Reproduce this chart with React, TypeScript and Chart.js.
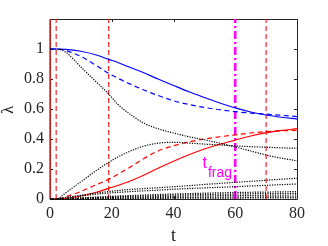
import React, { useEffect, useRef } from "react";
import { Chart, registerables } from "chart.js";

Chart.register(...registerables);

// ---- data ----
const T = [0, 2, 5, 10, 15, 19, 22, 25, 30, 35, 40, 45, 50, 55, 60, 65, 70, 75, 80];

const blueSolid = [1, 1, 0.998, 0.985, 0.96, 0.931, 0.91, 0.885, 0.845, 0.8, 0.757, 0.715, 0.677, 0.64, 0.607, 0.58, 0.56, 0.545, 0.533];
const blueDashed = [1, 1, 0.99, 0.95, 0.89, 0.838, 0.805, 0.775, 0.73, 0.69, 0.655, 0.63, 0.61, 0.595, 0.582, 0.573, 0.566, 0.558, 0.549];
const redSolid = [0, 0, 0.003, 0.02, 0.045, 0.071, 0.09, 0.112, 0.155, 0.205, 0.252, 0.295, 0.333, 0.365, 0.393, 0.42, 0.442, 0.457, 0.469];
const redDashed = [0, 0, 0.015, 0.05, 0.095, 0.131, 0.165, 0.2, 0.265, 0.32, 0.355, 0.38, 0.4, 0.415, 0.427, 0.44, 0.449, 0.455, 0.458];
const black1 = [1, 1, 0.98, 0.88, 0.78, 0.7, 0.63, 0.58, 0.51, 0.468, 0.44, 0.415, 0.395, 0.372, 0.347, 0.32, 0.293, 0.272, 0.255];
const black2 = [0, 0, 0.04, 0.115, 0.19, 0.244, 0.28, 0.31, 0.35, 0.372, 0.378, 0.373, 0.366, 0.36, 0.354, 0.349, 0.345, 0.341, 0.338];
const black3 = [0, 0, 0.01, 0.025, 0.04, 0.05, 0.056, 0.062, 0.069, 0.075, 0.082, 0.089, 0.097, 0.104, 0.111, 0.118, 0.125, 0.132, 0.138];
const black4 = [0, 0, 0.008, 0.02, 0.032, 0.04, 0.044, 0.048, 0.054, 0.059, 0.065, 0.07, 0.074, 0.078, 0.082, 0.087, 0.091, 0.096, 0.1];
const black5 = [0, 0, 0.003, 0.008, 0.013, 0.017, 0.02, 0.022, 0.026, 0.03, 0.033, 0.036, 0.039, 0.041, 0.043, 0.045, 0.046, 0.048, 0.049];
const black6 = [0, 0, 0.002, 0.006, 0.01, 0.013, 0.015, 0.017, 0.02, 0.023, 0.026, 0.028, 0.03, 0.032, 0.033, 0.035, 0.036, 0.037, 0.038];
const black7 = [0, 0, 0.001, 0.004, 0.007, 0.009, 0.011, 0.012, 0.014, 0.016, 0.018, 0.02, 0.021, 0.022, 0.023, 0.024, 0.025, 0.026, 0.027];
const black8 = [0, 0, 0.001, 0.002, 0.004, 0.005, 0.006, 0.007, 0.008, 0.009, 0.01, 0.011, 0.012, 0.012, 0.013, 0.013, 0.014, 0.014, 0.015];
const black9 = [0, 0, 0, 0.001, 0.002, 0.002, 0.003, 0.003, 0.004, 0.004, 0.005, 0.005, 0.006, 0.006, 0.006, 0.007, 0.007, 0.007, 0.007];

const redVLines = [0, 2, 19, 70];
const fragLine = 60;

const X_TICKS = [0, 20, 40, 60, 80];
const Y_TICKS = [0, 0.2, 0.4, 0.6, 0.8, 1];
const Y_TICK_LABELS = ["0", "0.2", "0.4", "0.6", "0.8", "1"];
const X_LABEL = "t";
const Y_LABEL = "λ";
const ANNOT_MAIN = "t";
const ANNOT_SUB = "frag";
const ANNOT_AT = { x: 49.4, y: 0.207 };

const X_MIN = 0, X_MAX = 80, Y_MIN = 0, Y_MAX = 1.2;

const pts = (ys: number[]) => T.map((x, i) => ({ x, y: ys[i] }));
const vline = (x: number) => [{ x, y: Y_MIN }, { x, y: Y_MAX }];

const AXIS_COLOR = "#262626";

const framePlugin = {
  id: "frame",
  beforeDatasetsDraw(chart: any) {
    const { ctx, chartArea: a, scales } = chart;
    const xs = scales.x, ys = scales.y;
    ctx.save();
    ctx.strokeStyle = AXIS_COLOR;
    ctx.lineWidth = 1;
    ctx.beginPath();
    ctx.rect(Math.round(a.left) + 0.5, Math.round(a.top) + 0.5, Math.round(a.right - a.left), Math.round(a.bottom - a.top));
    ctx.stroke();
    ctx.beginPath();
    const tl = 3;
    for (const v of X_TICKS) {
      const px = Math.round(xs.getPixelForValue(v)) + 0.5;
      ctx.moveTo(px, a.bottom);
      ctx.lineTo(px, a.bottom - tl);
      ctx.moveTo(px, a.top);
      ctx.lineTo(px, a.top + tl);
    }
    for (const v of Y_TICKS) {
      const py = Math.round(ys.getPixelForValue(v)) + 0.5;
      ctx.moveTo(a.left, py);
      ctx.lineTo(a.left + tl, py);
      ctx.moveTo(a.right, py);
      ctx.lineTo(a.right - tl, py);
    }
    ctx.stroke();
    ctx.restore();
  },
  afterDraw(chart: any) {
    const { ctx, chartArea: a, scales } = chart;
    const xs = scales.x, ys = scales.y;
    ctx.save();
    ctx.fillStyle = AXIS_COLOR;
    ctx.textAlign = "center";
    ctx.textBaseline = "middle";
    ctx.font = "18px 'Liberation Serif'";
    ctx.fillText(X_LABEL, (a.left + a.right) / 2, 236);
    ctx.save();
    ctx.translate(9, (a.top + a.bottom) / 2 + 1);
    ctx.rotate(-Math.PI / 2);
    ctx.font = "17px 'Liberation Serif'";
    ctx.fillText(Y_LABEL, 0, 0);
    ctx.restore();
    // annotation
    ctx.fillStyle = "#ff00ff";
    ctx.textAlign = "left";
    ctx.textBaseline = "alphabetic";
    const ax = xs.getPixelForValue(ANNOT_AT.x);
    const ay = ys.getPixelForValue(ANNOT_AT.y);
    ctx.font = "16px 'Liberation Sans'";
    ctx.fillText(ANNOT_MAIN, ax, ay);
    const w = ctx.measureText(ANNOT_MAIN).width;
    ctx.font = "14px 'Liberation Sans'";
    ctx.fillText(ANNOT_SUB, ax + w + 1, ay + 9);
    ctx.restore();
  },
};

export default function App() {
  const ref = useRef<HTMLCanvasElement>(null);
  useEffect(() => {
    if (!ref.current) return;
    const dotted = (ys: number[]) => ({
      data: pts(ys),
      borderColor: "#000000",
      borderWidth: 1.2,
      borderDash: [1.2, 1.3],
      pointRadius: 0,
      cubicInterpolationMode: "monotone" as const,
      clip: false as any,
    });
    const datasets: any[] = [
      dotted(black9), dotted(black8), dotted(black7), dotted(black6), dotted(black5),
      dotted(black4), dotted(black3), dotted(black2), dotted(black1),
      { data: pts(redDashed), borderColor: "#ff0000", borderWidth: 1.2, borderDash: [5, 3.5], pointRadius: 0, cubicInterpolationMode: "monotone" },
      { data: pts(redSolid), borderColor: "#ff0000", borderWidth: 1.2, pointRadius: 0, cubicInterpolationMode: "monotone" },
      { data: pts(blueDashed), borderColor: "#0000ff", borderWidth: 1.2, borderDash: [5, 3.5], pointRadius: 0, cubicInterpolationMode: "monotone" },
      { data: pts(blueSolid), borderColor: "#0000ff", borderWidth: 1.2, pointRadius: 0, cubicInterpolationMode: "monotone" },
      ...redVLines.map((x) => ({
        data: vline(x),
        borderColor: "#ff2020",
        borderWidth: x === 0 ? 1.5 : 1.2,
        borderDash: x === 0 ? [] : [5, 3],
        pointRadius: 0,
        clip: false,
      })),
      {
        data: vline(fragLine),
        borderColor: "#ff00ff",
        borderWidth: 2.5,
        borderDash: [8, 3, 2, 3],
        pointRadius: 0,
        clip: false,
      },
    ];
    const chart = new Chart(ref.current, {
      type: "line",
      data: { datasets },
      plugins: [framePlugin],
      options: {
        animation: false,
        responsive: false,
        events: [],
        layout: { padding: { left: 0, right: 31, top: 19, bottom: 0 } },
        plugins: { legend: { display: false }, tooltip: { enabled: false } },
        scales: {
          x: {
            type: "linear",
            min: X_MIN,
            max: X_MAX,
            grid: { display: false, drawTicks: false },
            border: { display: false },
            afterBuildTicks: (s: any) => { s.ticks = X_TICKS.map((value) => ({ value })); },
            afterFit: (s: any) => { s.height = 47; },
            ticks: {
              padding: 5,
              color: AXIS_COLOR,
              font: { family: "'Liberation Serif'", size: 16 },
              maxRotation: 0,
              callback: (v: any) => String(v),
            },
          },
          y: {
            type: "linear",
            min: Y_MIN,
            max: Y_MAX,
            grid: { display: false, drawTicks: false },
            border: { display: false },
            afterBuildTicks: (s: any) => { s.ticks = Y_TICKS.map((value) => ({ value })); },
            afterFit: (s: any) => { s.width = 50; },
            ticks: {
              padding: 6,
              color: AXIS_COLOR,
              font: { family: "'Liberation Serif'", size: 16 },
              callback: (v: any) => {
                const i = Y_TICKS.findIndex((t) => Math.abs(t - v) < 1e-9);
                return i >= 0 ? Y_TICK_LABELS[i] : "";
              },
            },
          },
        },
      },
    });
    return () => chart.destroy();
  }, []);
  return (
    <div style={{ position: "fixed", left: 0, top: 0, width: 328, height: 246, background: "#fff" }}>
      <canvas ref={ref} width={328} height={246} style={{ display: "block" }} />
    </div>
  );
}
